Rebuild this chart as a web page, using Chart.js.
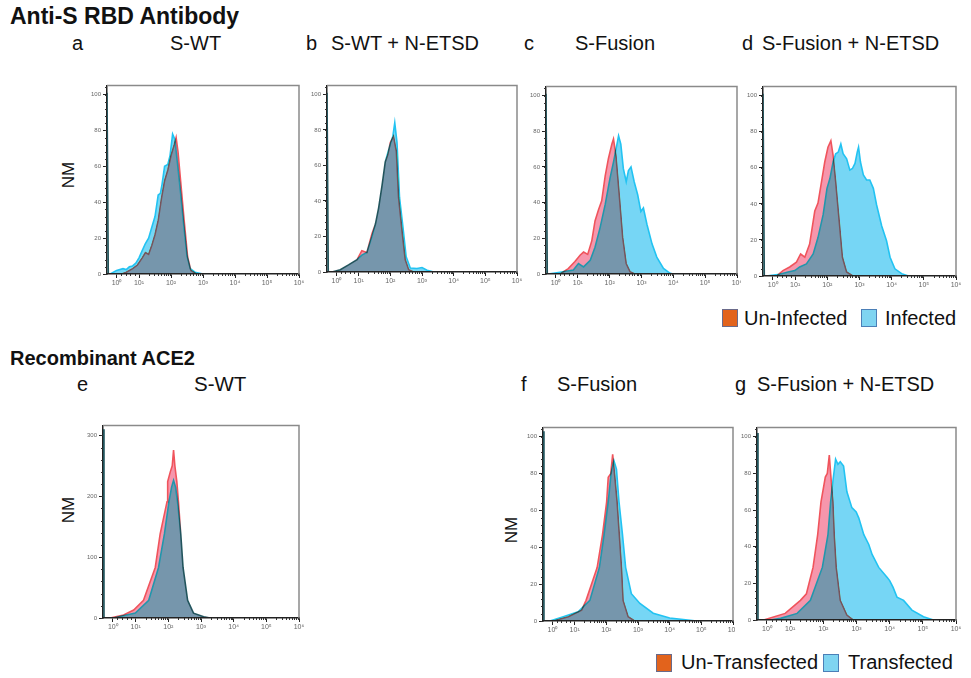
<!DOCTYPE html>
<html>
<head>
<meta charset="utf-8">
<script src="https://cdn.jsdelivr.net/npm/chart.js@4.4.1/dist/chart.umd.min.js"></script>
<style>
  html, body { margin:0; padding:0; background:#fff; }
  body { width:971px; height:678px; position:relative; overflow:hidden; font-family:"Liberation Sans", Arial, sans-serif; color:#111; }
  .t { position:absolute; white-space:nowrap; line-height:1; }
  .b { font-weight:bold; }
  .nm { position:absolute; font-size:17px; line-height:1; transform:translate(-50%,-50%) rotate(-90deg); white-space:nowrap; }
  .sq { position:absolute; width:14px; height:16px; }
  canvas { position:absolute; }
</style>
</head>
<body>
<script>
// ---------- data (x = display position on the biexponential axis, y = NM) ----------
const xTickPositions = [0.3, 1, 2, 3, 4, 5, 6];
const xTickLabels = ['10\u2070', '10\u00b9', '10\u00b2', '10\u00b3', '10\u2074', '10\u2075', '10\u2076'];
const yTicksPct = [0, 20, 40, 60, 80, 100];
const yTicksE = [0, 100, 200, 300];

const legendTop = ['Un-Infected', 'Infected'];
const legendBottom = ['Un-Transfected', 'Transfected'];

const aUninfected = [[0,101],[0.04,0],[0.45,0],[0.6,1],[0.8,3],[0.95,5],[1.1,9],[1.2,12],[1.3,11],[1.4,16],[1.5,22],[1.6,30],[1.7,42],[1.8,52],[1.9,58],[2.0,66],[2.1,72],[2.16,76],[2.22,68],[2.3,52],[2.41,30],[2.52,9.5],[2.62,2],[2.8,0],[6,0]];
const aInfected = [[0,101],[0.04,0],[0.1,0],[0.3,2],[0.5,3],[0.6,2.5],[0.7,4],[0.8,4.5],[0.9,6],[1.0,9],[1.1,13],[1.2,17],[1.3,20],[1.4,26],[1.5,32],[1.6,44],[1.67,45],[1.72,50],[1.8,60],[1.9,61],[1.97,66],[2.05,78],[2.12,75],[2.2,62],[2.3,45],[2.4,27],[2.5,10],[2.6,3],[2.75,1],[3.0,0],[6,0]];

const bUninfected = [[0,101],[0.04,0],[0.16,0],[0.42,1.3],[0.68,4],[0.95,7],[1.1,12],[1.26,11],[1.42,21.5],[1.53,27],[1.63,36],[1.74,49],[1.84,62],[1.92,66],[2.0,73],[2.1,76.5],[2.19,68],[2.26,42],[2.37,23],[2.47,7],[2.58,1.3],[2.74,0],[6,0]];
const bInfected = [[0,101],[0.04,0],[0.16,0],[0.42,1.3],[0.68,4],[0.95,7],[1.1,9.5],[1.26,11],[1.42,20],[1.53,27],[1.63,36],[1.74,49],[1.84,62],[1.92,67],[2.0,72],[2.08,76.5],[2.14,84],[2.21,73],[2.29,42],[2.4,25],[2.5,8.6],[2.63,2.2],[2.84,2],[3.0,2.5],[3.16,1],[3.37,0],[6,0]];

const cUninfected = [[0,101],[0.04,0],[0.44,0],[0.7,3],[0.91,7],[1.07,10.5],[1.18,12.3],[1.31,11],[1.44,18.7],[1.54,29.7],[1.65,36],[1.75,41],[1.86,55],[1.96,64.6],[2.07,72.8],[2.12,75.6],[2.2,66],[2.31,42.5],[2.41,20.5],[2.52,5.9],[2.64,1.3],[2.8,0],[6,0]];
const cInfected = [[0,101],[0.04,0],[0.07,0],[0.44,1],[0.86,2.2],[1.02,5.9],[1.18,4],[1.39,7.7],[1.54,15],[1.7,26],[1.86,39],[2.01,53.6],[2.12,62.7],[2.2,70],[2.28,77.4],[2.35,72.8],[2.43,59],[2.52,51.7],[2.59,58],[2.67,60],[2.77,51.7],[2.88,44.4],[2.98,35],[3.06,37],[3.17,27.9],[3.33,16.9],[3.48,9.5],[3.69,3.1],[3.9,0.4],[4.0,0],[6,0]];

const dUninfected = [[0,101],[0.04,0],[0.42,0],[0.62,3],[0.83,5],[1.04,7.7],[1.17,12.2],[1.3,10.4],[1.45,17.7],[1.61,36],[1.71,40.4],[1.82,52.3],[1.92,63.2],[2.02,71.4],[2.11,75],[2.18,66.8],[2.26,52.3],[2.37,30.4],[2.47,10.4],[2.6,2.2],[2.8,0],[6,0]];
const dInfected = [[0,101],[0.04,0],[0.1,0],[0.52,1],[0.78,2.2],[0.99,3],[1.14,5],[1.35,6.7],[1.56,12.2],[1.71,21.3],[1.87,34],[1.99,48.6],[2.08,54],[2.18,63.2],[2.26,67.8],[2.34,68.7],[2.42,73.2],[2.49,67.8],[2.6,65],[2.7,58.7],[2.78,59.6],[2.86,62.4],[2.93,68.7],[2.97,71.4],[3.03,63.2],[3.12,56],[3.22,53.2],[3.32,53.2],[3.43,48.6],[3.53,39.5],[3.69,27.7],[3.84,19.5],[3.95,10.4],[4.1,4],[4.31,1.3],[4.52,0],[6,0]];

const eUntransfected = [[0,310],[0.03,0],[0.22,0],[0.63,5],[0.94,13],[1.24,29],[1.6,83],[1.75,138],[1.96,191],[1.98,224],[2.06,240],[2.12,250],[2.16,276],[2.2,250],[2.26,224],[2.31,191],[2.38,138],[2.45,83],[2.59,29],[2.77,8],[3.08,2],[3.28,0],[6,0]];
const eTransfected = [[0,310],[0.03,0],[0.32,0],[0.99,8],[1.4,29],[1.7,83],[1.88,138],[2.02,191],[2.1,215],[2.16,226],[2.22,215],[2.28,191],[2.38,138],[2.45,83],[2.59,29],[2.77,8],[3.08,2],[3.28,0],[6,0]];

const fUntransfected = [[0,103],[0.03,0],[0.32,0],[0.8,2.3],[1.22,5.9],[1.36,11.2],[1.71,29],[1.88,46.9],[2.01,64.7],[2.06,78],[2.14,80],[2.2,90.5],[2.27,78],[2.34,64.7],[2.41,46.9],[2.48,29],[2.53,11.2],[2.69,2.3],[2.9,0],[6,0]];
const fTransfected = [[0,103],[0.03,0],[0.22,0],[0.64,2.3],[1.11,5],[1.48,11.2],[1.78,29],[1.93,46.9],[2.06,64.7],[2.15,80],[2.24,87],[2.32,82.5],[2.4,64.7],[2.51,46.9],[2.61,29],[2.79,14.8],[3.06,9.5],[3.48,4.2],[4.0,1.6],[4.64,0.4],[4.85,0],[6,0]];

const gUntransfected = [[0,102],[0.03,0],[0.2,0],[0.85,3.6],[1.31,10.7],[1.49,14.3],[1.69,28.7],[1.83,46.6],[1.93,64.5],[2.06,78],[2.12,80],[2.18,90],[2.22,80],[2.29,64.5],[2.33,46.6],[2.39,28.7],[2.51,10.7],[2.71,2.7],[2.9,0],[6,0]];
const gTransfected = [[0,102],[0.03,0],[0.4,0],[0.71,0.9],[1.21,3.6],[1.61,10.7],[1.97,28.7],[2.14,46.6],[2.22,64.5],[2.29,76],[2.37,87.8],[2.44,85],[2.51,86.4],[2.61,84],[2.71,70],[2.86,61.3],[2.99,59],[3.07,55.6],[3.22,46.6],[3.37,41.2],[3.47,35.8],[3.67,28.7],[3.92,23.3],[4.0,21.5],[4.1,17.9],[4.22,12.5],[4.42,10.7],[4.67,5.4],[5.02,1.8],[5.32,0],[6,0]];

// ---------- layout ----------
const RED_LINE = '#f0545c', RED_FILL = '#f696ac';
const BLUE_LINE = '#22c3f2', BLUE_FILL = '#76d6f5';
const Y_AXIS_W = 22, X_AXIS_H = 20, PAD_TOP = 3, PAD_RIGHT = 10;

const panels = [
  { box:[107, 83, 299, 274], red:aUninfected, blue:aInfected, yMax:105, yTicks:yTicksPct, yMinor:4 },
  { box:[327, 83, 517, 272], red:bUninfected, blue:bInfected, yMax:105, yTicks:yTicksPct, yMinor:4 },
  { box:[546, 84, 737, 274], red:cUninfected, blue:cInfected, yMax:105, yTicks:yTicksPct, yMinor:4 },
  { box:[763, 84, 956, 276], red:dUninfected, blue:dInfected, yMax:105, yTicks:yTicksPct, yMinor:4 },
  { box:[103, 423, 299, 618], red:eUntransfected, blue:eTransfected, yMax:316, yTicks:yTicksE, yMinor:20 },
  { box:[543, 425, 733, 621], red:fUntransfected, blue:fTransfected, yMax:105, yTicks:yTicksPct, yMinor:4 },
  { box:[757, 425, 956, 620], red:gUntransfected, blue:gTransfected, yMax:105, yTicks:yTicksPct, yMinor:4 }
];

// ---------- text ----------
function addText(txt, left, top, size, bold) {
  const d = document.createElement('div');
  d.className = 't' + (bold ? ' b' : '');
  d.style.left = left + 'px'; d.style.top = top + 'px'; d.style.fontSize = size + 'px';
  d.textContent = txt; document.body.appendChild(d);
}
function addNM(cx, cy) {
  const d = document.createElement('div'); d.className = 'nm';
  d.style.left = cx + 'px'; d.style.top = cy + 'px'; d.textContent = 'NM';
  document.body.appendChild(d);
}
function addSquare(left, top, fill, border) {
  const d = document.createElement('div'); d.className = 'sq';
  d.style.left = left + 'px'; d.style.top = top + 'px';
  d.style.background = fill; d.style.border = '1px solid ' + border;
  document.body.appendChild(d);
}

addText('Anti-S RBD Antibody', 10, 5, 23, true);
addText('a', 72, 33, 20); addText('S-WT', 170, 33, 20);
addText('b', 306, 33, 20); addText('S-WT + N-ETSD', 331, 33, 20);
addText('c', 524, 33, 20); addText('S-Fusion', 575, 33, 20);
addText('d', 742, 33, 20); addText('S-Fusion + N-ETSD', 762, 33, 20);
addNM(68, 175);
addSquare(722, 309, '#e2631c', '#6a6a8a'); addText(legendTop[0], 744, 308, 20);
addSquare(861, 309, '#7fd4f1', '#4b7fb7'); addText(legendTop[1], 885, 308, 20);

addText('Recombinant ACE2', 10, 348, 20, true);
addText('e', 77, 374, 20); addText('S-WT', 194, 374, 20.5);
addText('f', 521, 374, 20); addText('S-Fusion', 557, 374, 20);
addText('g', 735, 374, 20); addText('S-Fusion + N-ETSD', 757, 374, 20);
addNM(68, 510); addNM(511, 530);
addSquare(656, 654, '#e2631c', '#6a6a8a'); addText(legendBottom[0], 681, 652, 20);
addSquare(823, 654, '#7fd4f1', '#4b7fb7'); addText(legendBottom[1], 848, 652, 20);

// ---------- plugins ----------
const blendPlugin = {
  id: 'darkenBlend',
  beforeDraw(chart) { const c = chart.ctx; c.save(); c.fillStyle = '#fff'; c.fillRect(0, 0, chart.width, chart.height); c.restore(); },
  beforeDatasetsDraw(chart) { chart.ctx.save(); chart.ctx.globalCompositeOperation = 'darken'; },
  afterDatasetsDraw(chart) { chart.ctx.restore(); }
};
const frameAndMinorPlugin = {
  id: 'frameMinor',
  afterDraw(chart, args, opts) {
    const c = chart.ctx, a = chart.chartArea, xs = chart.scales.x, ys = chart.scales.y;
    c.save();
    c.strokeStyle = '#8a8a8a'; c.lineWidth = 1.5;
    c.beginPath(); c.moveTo(a.left, a.top); c.lineTo(a.right, a.top); c.lineTo(a.right, a.bottom); c.stroke();
    c.strokeStyle = '#333'; c.lineWidth = 1;
    c.beginPath();
    for (let v = 0; v <= ys.max; v += opts.yMinor) {
      const py = Math.round(ys.getPixelForValue(v)) + 0.5;
      c.moveTo(a.left - 2, py); c.lineTo(a.left, py);
    }
    for (let n = 1; n < 6; n++) {
      for (let k = 2; k <= 9; k++) {
        const px = Math.round(xs.getPixelForValue(n + Math.log10(k))) + 0.5;
        c.moveTo(px, a.bottom); c.lineTo(px, a.bottom + 2);
      }
    }
    for (let k = 1; k <= 4; k++) {
      const px = Math.round(xs.getPixelForValue(0.3 + k * 0.14)) + 0.5;
      c.moveTo(px, a.bottom); c.lineTo(px, a.bottom + 2);
    }
    c.stroke();
    c.restore();
  }
};

// ---------- charts ----------
panels.forEach(p => {
  const [L, T, R, B] = p.box;
  const cv = document.createElement('canvas');
  const w = (R - L) + Y_AXIS_W + PAD_RIGHT, h = (B - T) + PAD_TOP + X_AXIS_H;
  cv.style.left = (L - Y_AXIS_W) + 'px'; cv.style.top = (T - PAD_TOP) + 'px';
  cv.style.width = w + 'px'; cv.style.height = h + 'px';
  cv.width = w; cv.height = h;
  document.body.appendChild(cv);
  const mk = (arr, line, fill, ord) => ({
    data: arr.map(([x, y]) => ({ x, y })),
    borderColor: line, backgroundColor: fill, borderWidth: 1.6,
    fill: 'origin', pointRadius: 0, tension: 0, order: ord
  });
  new Chart(cv, {
    type: 'line',
    data: { datasets: [mk(p.red, RED_LINE, RED_FILL, 2), mk(p.blue, BLUE_LINE, BLUE_FILL, 1)] },
    options: {
      responsive: false, animation: false, devicePixelRatio: 1,
      layout: { padding: { top: PAD_TOP, right: PAD_RIGHT, left: 0, bottom: 0 } },
      plugins: { legend: { display: false }, tooltip: { enabled: false }, frameMinor: { yMinor: p.yMinor },
                 filler: { drawTime: 'beforeDatasetDraw' } },
      scales: {
        x: {
          type: 'linear', min: 0, max: 6,
          afterBuildTicks: s => { s.ticks = xTickPositions.map(v => ({ value: v })); },
          afterFit: s => { s.height = X_AXIS_H; },
          ticks: { autoSkip: false, maxRotation: 0, padding: 1, color: '#666', font: { size: 7, family: 'Liberation Sans' },
                   callback: v => { const i = xTickPositions.indexOf(v); return i >= 0 ? xTickLabels[i] : ''; } },
          grid: { display: true, drawOnChartArea: false, drawTicks: true, tickLength: 4, color: '#222' },
          border: { display: true, color: '#222', width: 1.5 }
        },
        y: {
          type: 'linear', min: 0, max: p.yMax,
          afterBuildTicks: s => { s.ticks = p.yTicks.map(v => ({ value: v })); },
          afterFit: s => { s.width = Y_AXIS_W; },
          ticks: { autoSkip: false, padding: 2, color: '#666', font: { size: 6, family: 'Liberation Sans' } },
          grid: { display: true, drawOnChartArea: false, drawTicks: true, tickLength: 4, color: '#222' },
          border: { display: true, color: '#222', width: 1.5 }
        }
      }
    },
    plugins: [blendPlugin, frameAndMinorPlugin]
  });
});
</script>
</body>
</html>
